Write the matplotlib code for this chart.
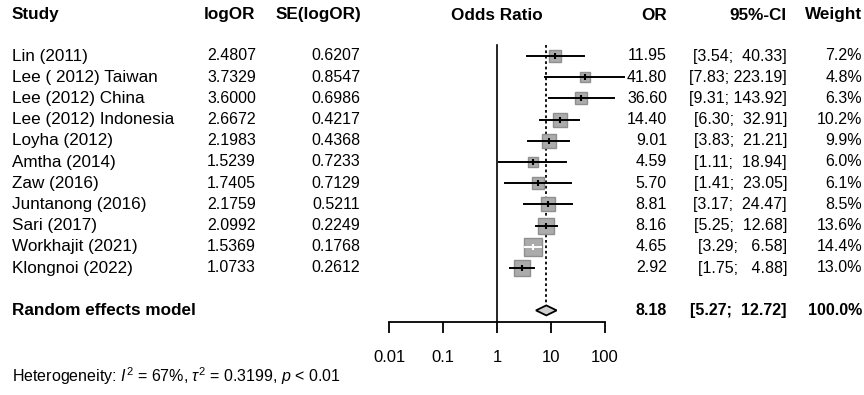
import matplotlib
matplotlib.use("Agg")
import matplotlib.pyplot as plt
import numpy as np

plt.rcParams['font.family'] = ['Liberation Sans', 'DejaVu Sans']
plt.rcParams['mathtext.fontset'] = 'custom'
plt.rcParams['mathtext.rm'] = 'Liberation Sans'
plt.rcParams['mathtext.it'] = 'Liberation Sans:italic'

# data
studies = ['Lin (2011)', 'Lee ( 2012) Taiwan', 'Lee (2012) China', 'Lee (2012) Indonesia',
           'Loyha (2012)', 'Amtha (2014)', 'Zaw (2016)', 'Juntanong (2016)',
           'Sari (2017)', 'Workhajit (2021)', 'Klongnoi (2022)']
log_or = [2.4807, 3.7329, 3.6000, 2.6672, 2.1983, 1.5239, 1.7405, 2.1759, 2.0992, 1.5369, 1.0733]
se_log_or = [0.6207, 0.8547, 0.6986, 0.4217, 0.4368, 0.7233, 0.7129, 0.5211, 0.2249, 0.1768, 0.2612]
odds = [11.95, 41.80, 36.60, 14.40, 9.01, 4.59, 5.70, 8.81, 8.16, 4.65, 2.92]
ci_low = [3.54, 7.83, 9.31, 6.30, 3.83, 1.11, 1.41, 3.17, 5.25, 3.29, 1.75]
ci_high = [40.33, 223.19, 143.92, 32.91, 21.21, 18.94, 23.05, 24.47, 12.68, 6.58, 4.88]
weights = [7.2, 4.8, 6.3, 10.2, 9.9, 6.0, 6.1, 8.5, 13.6, 14.4, 13.0]

pooled_or = 8.18
pooled_low = 5.27
pooled_high = 12.72
heterogeneity = r"Heterogeneity: $I^2$ = 67%, $\tau^2$ = 0.3199, $p$ < 0.01"

W, H = 864, 395
fig = plt.figure(figsize=(W / 100, H / 100), dpi=100)

# text layer in pixel units
tax = fig.add_axes([0, 0, 1, 1])
tax.set_xlim(0, W)
tax.set_ylim(H, 0)
tax.axis('off')

row_y = [56 + 21.2 * i for i in range(len(studies))]
sum_y = 56 + 21.2 * (len(studies) + 1)
head_y = 15
fs_lab = 12.3
fs_num = 11.5

# forest panel: x from 0.01 to 100, y in the same pixel units
ax_left, ax_right, ax_top, ax_bot = 389, 605, 40, 322
ax = fig.add_axes([ax_left / W, (H - ax_bot) / H, (ax_right - ax_left) / W, (ax_bot - ax_top) / H])
ax.set_xscale('log')
ax.set_xlim(0.01, 100)
ax.set_ylim(ax_bot, ax_top)
ax.patch.set_alpha(0)
for s in ['top', 'left', 'right']:
    ax.spines[s].set_visible(False)
ax.spines['bottom'].set_linewidth(1.3)
ax.set_yticks([])
ax.set_xticks([0.01, 0.1, 1, 10, 100])
ax.set_xticklabels(['0.01', '0.1', '1', '10', '100'], fontsize=12)
ax.minorticks_off()
ax.tick_params(axis='x', direction='out', length=8, width=1.3, pad=12)

px_per_dec = (ax_right - ax_left) / 4

ax.plot([1, 1], [45, ax_bot], color='black', lw=1.2, clip_on=False)
ax.plot([pooled_or, pooled_or], [45, sum_y - 5], color='black', lw=1.3, ls=(0, (1.5, 1.5)))

for i in range(len(studies)):
    y = row_y[i]
    side = 4.48 * np.sqrt(weights[i])
    ax.plot(odds[i], y, marker='s', ms=side * 0.72, mfc='#ababab', mec='#8f8f8f', mew=1, zorder=2)
    ci_px = (np.log10(ci_high[i]) - np.log10(ci_low[i])) * px_per_dec
    c = 'white' if ci_px < side else 'black'
    ax.plot([ci_low[i], ci_high[i]], [y, y], color=c, lw=1.4, zorder=3, clip_on=False)
    ax.plot(odds[i], y, marker='|', ms=5, mew=1.5, color=c, zorder=4)

ax.fill([pooled_low, pooled_or, pooled_high, pooled_or],
        [sum_y, sum_y - 5, sum_y, sum_y + 5],
        facecolor='#cfcfcf', edgecolor='black', lw=1.3, zorder=3)

# headers
bold = dict(fontsize=fs_lab, fontweight='bold', va='center')
tax.text(12, head_y, 'Study', ha='left', **bold)
tax.text(255, head_y, 'logOR', ha='right', **bold)
tax.text(361, head_y, 'SE(logOR)', ha='right', **bold)
tax.text(497, head_y, 'Odds Ratio', ha='center', **bold)
tax.text(667, head_y, 'OR', ha='right', **bold)
tax.text(787, head_y, '95%-CI', ha='right', **bold)
tax.text(862, head_y, 'Weight', ha='right', **bold)

w_hi = max(len(f"{v:.2f}") for v in ci_high)
for i in range(len(studies)):
    y = row_y[i]
    kw = dict(fontsize=fs_num, va='center')
    tax.text(12, y, studies[i], ha='left', fontsize=fs_lab, va='center')
    tax.text(256, y, f"{log_or[i]:.4f}", ha='right', **kw)
    tax.text(360, y, f"{se_log_or[i]:.4f}", ha='right', **kw)
    tax.text(667, y, f"{odds[i]:.2f}", ha='right', **kw)
    hi = f"{ci_high[i]:.2f}".rjust(w_hi)
    tax.text(787, y, f"[{ci_low[i]:.2f}; {hi}]", ha='right', **kw)
    tax.text(862, y, f"{weights[i]:.1f}%", ha='right', **kw)

bold_num = dict(fontsize=fs_num, fontweight='bold', va='center')
tax.text(12, sum_y, 'Random effects model', ha='left', **bold)
tax.text(667, sum_y, f"{pooled_or:.2f}", ha='right', **bold_num)
hi = f"{pooled_high:.2f}".rjust(w_hi)
tax.text(787, sum_y, f"[{pooled_low:.2f}; {hi}]", ha='right', **bold_num)
tax.text(862, sum_y, '100.0%', ha='right', **bold_num)

tax.text(12, 376, heterogeneity, ha='left', va='center', fontsize=fs_num)

fig.savefig('out.png', dpi=100)
